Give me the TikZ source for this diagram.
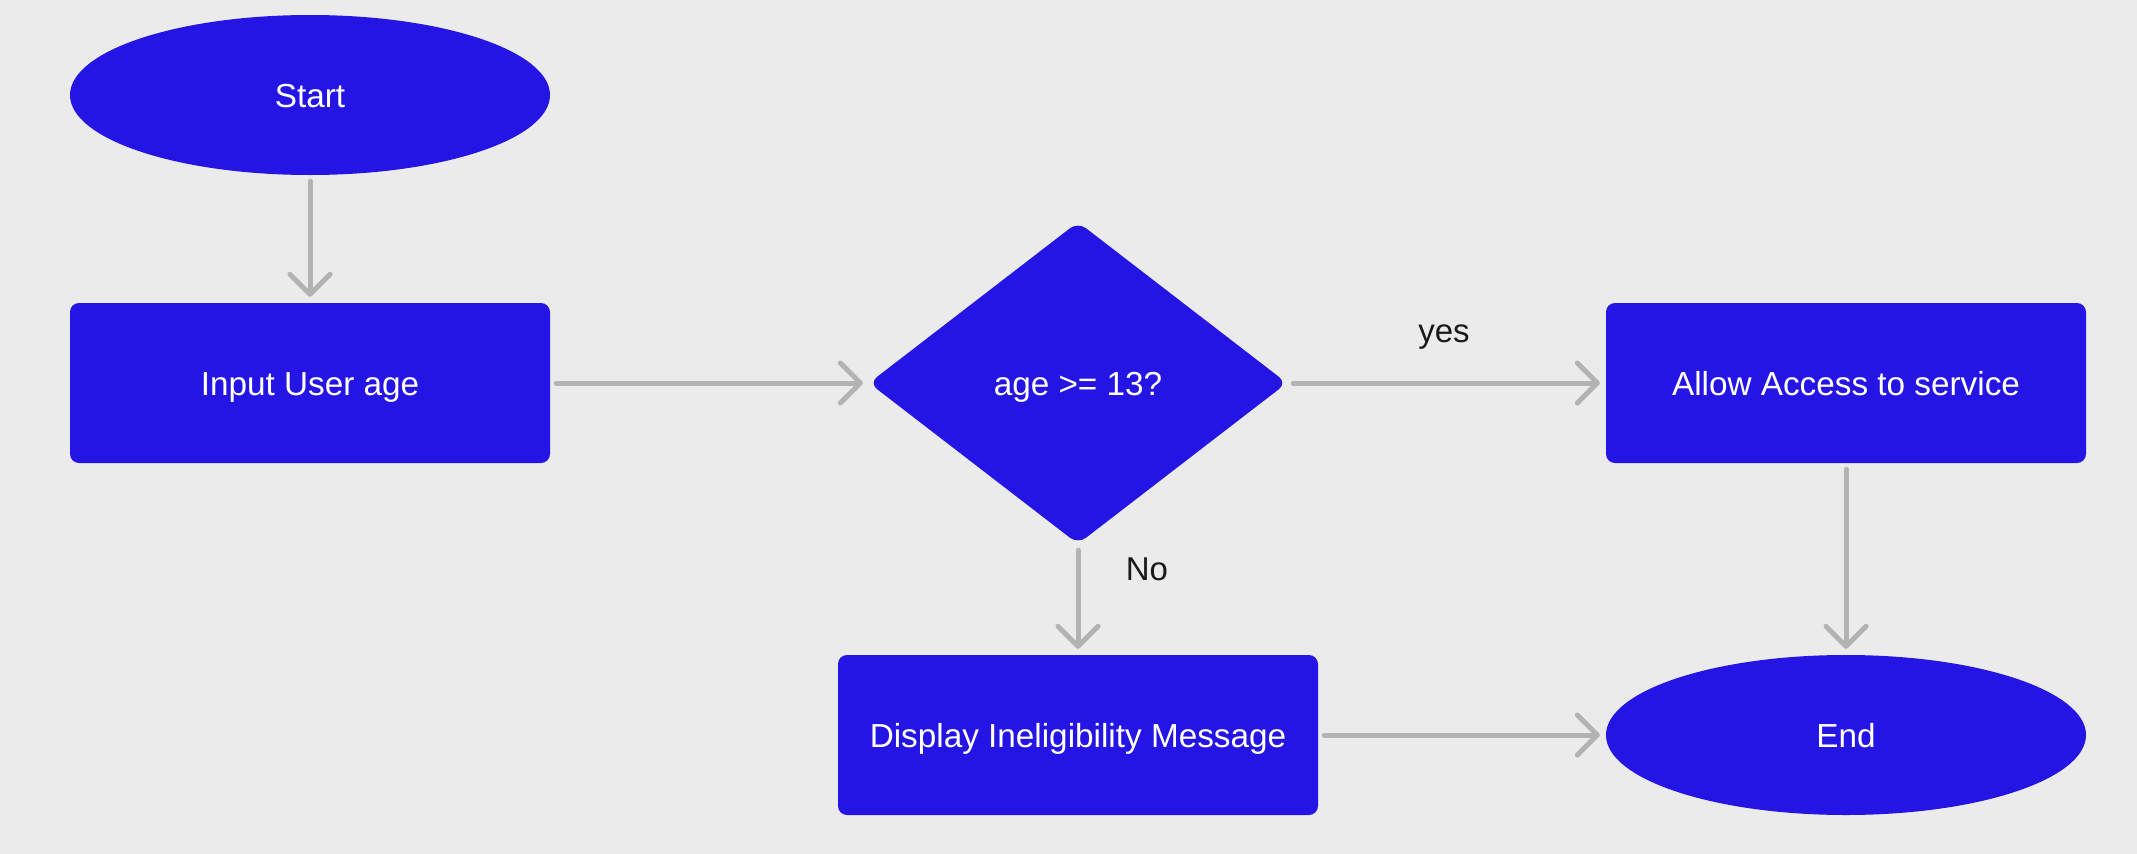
\documentclass[tikz,border=0pt]{standalone}
\usepackage{fontspec}
\setmainfont{Liberation Sans}
\usetikzlibrary{shapes.geometric,arrows.meta}
\definecolor{bg}{HTML}{EBEBEB}
\definecolor{boxblue}{HTML}{2515E5}
\definecolor{conngray}{HTML}{B3B3B3}
\definecolor{labeltext}{HTML}{1A1A1A}
\tikzset{
  base/.style={fill=boxblue, draw=none, text=white, inner sep=0pt,
    text height=24pt, text depth=0pt,
    font=\fontsize{33.3}{40}\selectfont},
  terminal/.style={base, ellipse, minimum width=480pt, minimum height=160pt},
  process/.style={base, rectangle, rounded corners=9pt, minimum width=480pt, minimum height=160pt},
  decision/.style={base, diamond, rounded corners=10pt, minimum width=418pt, minimum height=322pt},
  conn/.style={draw=conngray, line width=5pt, line cap=round,
    -{Straight Barb[length=20pt, width=40pt, round]}, shorten <=6pt, shorten >=6pt},
  lbl/.style={text=labeltext, inner sep=0pt, text height=24pt, text depth=0pt,
    font=\fontsize{33}{40}\selectfont}
}
\begin{document}
\begin{tikzpicture}[x=1pt, y=-1pt]
\fill[bg] (0,0) rectangle (2137,854);
\useasboundingbox (0,0) rectangle (2137,854);
\node[terminal] (start) at (310,95) {Start};
\node[process] (input) at (310,383) {Input User age};
\node[decision] (dec) at (1078,383) {age >= 13?};
\node[process] (allow) at (1846,383) {Allow Access to service};
\node[process] (disp) at (1078,735) {Display Ineligibility Message};
\node[terminal] (end) at (1846,735) {End};
\draw[conn] (start.south) -- (input.north);
\draw[conn] (input.east) -- (dec.west);
\draw[conn] (dec.east) -- (allow.west);
\draw[conn] (dec.south) -- (disp.north);
\draw[conn] (allow.south) -- (end.north);
\draw[conn] (disp.east) -- (end.west);
\node[lbl] (yes) at (1444,330) {yes};
\node[lbl] (no) at (1147,568) {No};
\end{tikzpicture}
\end{document}
